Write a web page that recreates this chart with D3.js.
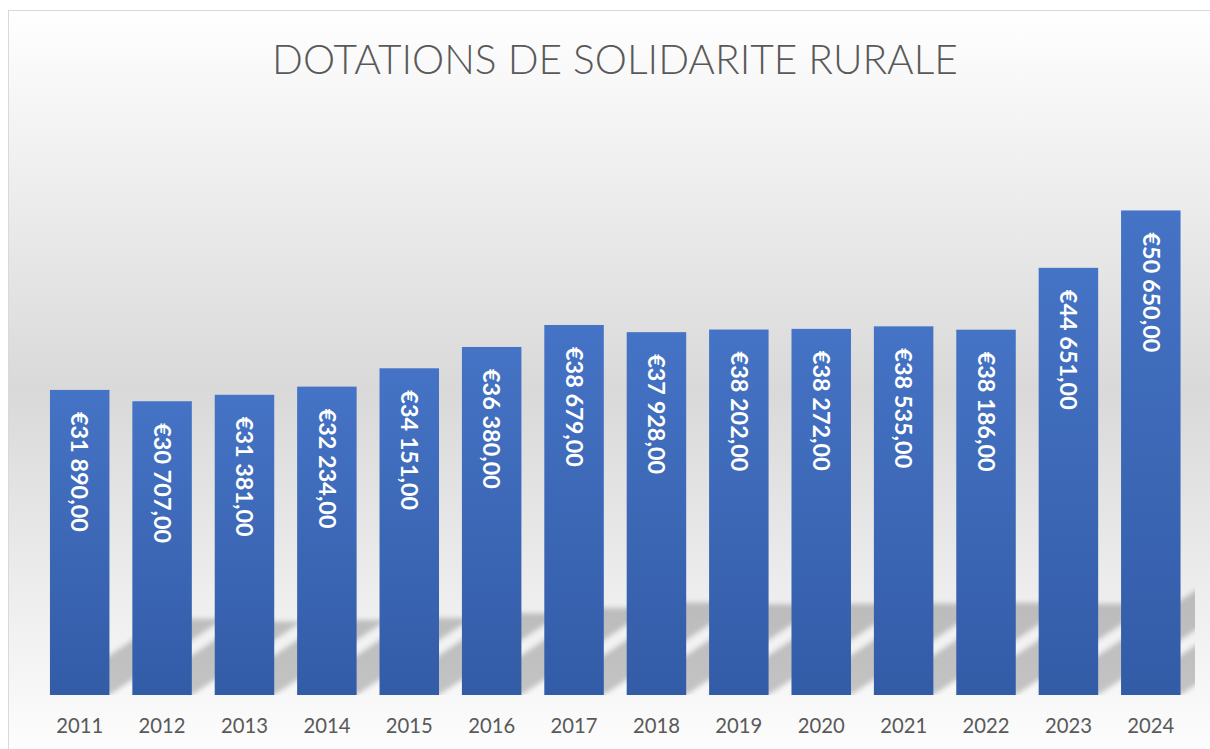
<!DOCTYPE html>
<html>
<head>
<meta charset="utf-8">
<script src="https://cdn.jsdelivr.net/npm/d3@7"></script>
<style>
  html, body { margin: 0; padding: 0; background: #ffffff; }
  svg { display: block; }
</style>
</head>
<body>
<svg id="chart" width="1210" height="749"></svg>
<script>
const title = "DOTATIONS DE SOLIDARITE RURALE";
const years = ["2011","2012","2013","2014","2015","2016","2017","2018","2019","2020","2021","2022","2023","2024"];
const values = [31890, 30707, 31381, 32234, 34151, 36380, 38679, 37928, 38202, 38272, 38535, 38186, 44651, 50650];

const W = 1210, H = 749;
const svg = d3.select("#chart");
const defs = svg.append("defs");

// background gradient
const bg = defs.append("linearGradient").attr("id","bgGrad").attr("x1",0).attr("y1",0).attr("x2",0).attr("y2",1);
bg.append("stop").attr("offset","0%").attr("stop-color","#ffffff");
bg.append("stop").attr("offset","50%").attr("stop-color","#d9d9d9");
bg.append("stop").attr("offset","100%").attr("stop-color","#ffffff");

// bar gradient
const bgBar = defs.append("linearGradient").attr("id","barGrad").attr("x1",0).attr("y1",0).attr("x2",0).attr("y2",1);
bgBar.append("stop").attr("offset","0%").attr("stop-color","#4573c5");
bgBar.append("stop").attr("offset","100%").attr("stop-color","#335ca7");

const blur = defs.append("filter").attr("id","shBlur").attr("x","-20%").attr("y","-20%").attr("width","140%").attr("height","140%");
blur.append("feGaussianBlur").attr("stdDeviation",2.5);

defs.append("clipPath").attr("id","plotClip")
  .append("rect").attr("x",10).attr("y",100).attr("width",1185).attr("height",595);

svg.append("rect").attr("x",8.5).attr("y",10.5).attr("width",1220).attr("height",760)
  .attr("fill","url(#bgGrad)").attr("stroke","#d9d9d9").attr("stroke-width",1);

const x = d3.scaleBand().domain(years).range([38.5, 1192]).paddingInner(0.278).paddingOuter(0.139);
const y = d3.scaleLinear().domain([0, 60000]).range([695, 121]);

// perspective shadows
const kH = 0.25, kS = 0.375;
svg.append("g").attr("clip-path","url(#plotClip)")
  .selectAll("path").data(years).join("path")
  .attr("d", (d,i) => {
    const x0 = x(d), x1 = x(d) + x.bandwidth();
    const b = y(0), h = y(0) - y(values[i]);
    const top = b - kH*h, sh = kS*h;
    return `M${x0},${b}L${x1},${b}L${x1+sh},${top}L${x0+sh},${top}Z`;
  })
  .attr("fill","#000").attr("fill-opacity",0.21).attr("filter","url(#shBlur)");

// bars
svg.append("g").selectAll("rect").data(years).join("rect")
  .attr("x", d => x(d)).attr("width", x.bandwidth())
  .attr("y", (d,i) => y(values[i])).attr("height", (d,i) => y(0) - y(values[i]))
  .attr("fill","url(#barGrad)");

// x axis labels
const xAxis = d3.axisBottom(x).tickSize(0).tickPadding(0);
const gx = svg.append("g").attr("transform","translate(0,695)").call(xAxis);
gx.select(".domain").remove();
const yl = gx.selectAll("text").attr("font-family","Lato, 'Open Sans', sans-serif").attr("font-size",20)
  .attr("fill","#595959").attr("dy",null).attr("y",38);
const yw = yl.node().getComputedTextLength();
yl.attr("font-size", 20 * 47 / yw);

// data labels
const loc = d3.formatLocale({decimal: ",", thousands: " ", grouping: [3], currency: ["€", ""]});
const fmt = loc.format("$,.2f");
const lbl = svg.append("g").selectAll("text").data(years).join("text")
  .attr("transform", (d,i) => `translate(${x(d) + x.bandwidth()/2},${y(values[i]) + 22}) rotate(90)`)
  .attr("dy","0.35em")
  .attr("font-family","Lato, 'Open Sans', sans-serif").attr("font-weight",700)
  .attr("font-size",24).attr("fill","#ffffff")
  .text((d,i) => fmt(values[i]));
// fit label size so first label spans ~120px
const w0 = lbl.node().getComputedTextLength();
const fs = 24 * 120 / w0;
lbl.attr("font-size", fs);

// title
const t = svg.append("text").attr("x",615).attr("y",74).attr("text-anchor","middle")
  .attr("font-family","Lato, 'Open Sans', sans-serif").attr("font-weight",300)
  .attr("font-size",44).attr("fill","#595959").text(title);
const tw = t.node().getComputedTextLength();
t.attr("font-size", 44 * 686 / tw);
</script>
</body>
</html>
